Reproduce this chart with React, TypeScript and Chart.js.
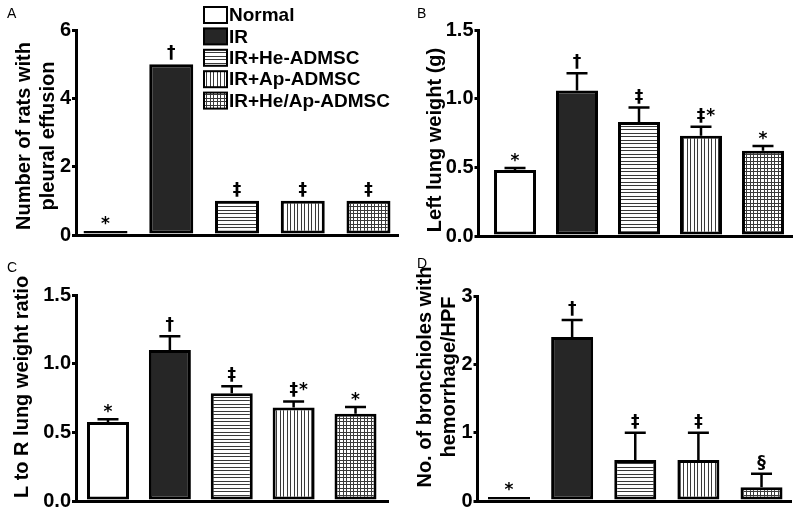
import React, { useEffect, useRef } from 'react';
import { Chart, registerables } from 'chart.js';

Chart.register(...registerables);

const FONT = '"Liberation Sans", Arial, Helvetica, sans-serif';
const MARK_FONT = '"DejaVu Sans", "Liberation Sans", sans-serif';

// ---------- data ----------
const groups = ['Normal', 'IR', 'IR+He-ADMSC', 'IR+Ap-ADMSC', 'IR+He/Ap-ADMSC'];

const effusionCounts = [0.12, 5, 1, 1, 1];
const effusionMarks = ['*', '†', '‡', '‡', '‡'];
const effusionTicks = [0, 2, 4, 6];
const effusionTickLabels = ['0', '2', '4', '6'];
const effusionTitle = ['Number of rats with', 'pleural effusion'];

const leftLungWeight = [0.48, 1.06, 0.83, 0.73, 0.62];
const leftLungSem = [0.015, 0.125, 0.105, 0.065, 0.035];
const leftLungMarks = ['*', '†', '‡', '‡*', '*'];
const weightTicks = [0, 0.5, 1.0, 1.5];
const weightTickLabels = ['0.0', '0.5', '1.0', '1.5'];
const leftLungTitle = ['Left lung weight (g)'];

const lrRatio = [0.575, 1.1, 0.785, 0.68, 0.635];
const lrRatioSem = [0.02, 0.1, 0.05, 0.045, 0.05];
const lrRatioMarks = ['*', '†', '‡', '‡*', '*'];
const lrRatioTitle = ['L to R lung weight ratio'];

const hemorrhage = [0.06, 2.4, 0.6, 0.6, 0.2];
const hemorrhageSem = [0, 0.25, 0.4, 0.4, 0.2];
const hemorrhageMarks = ['*', '†', '‡', '‡', '§'];
const hemorrhageTicks = [0, 1, 2, 3];
const hemorrhageTickLabels = ['0', '1', '2', '3'];
const hemorrhageTitle = ['No. of bronchioles with', 'hemorrhage/HPF'];

// ---------- layout ----------
type Panel = {
  letter: string;
  left: number;
  top: number;
  values: number[];
  sem: number[] | null;
  marks: string[];
  tickValues: number[];
  tickLabels: string[];
  title: string[];
  area: { l: number; t: number; r: number; b: number };
  xRange: [number, number];
  barWidth: number;
  titleX: number[];
  titleY: number;
  letterXY: [number, number];
  legend: boolean;
};

const panels: Panel[] = [
  {
    letter: 'A', left: 0, top: 0,
    values: effusionCounts, sem: null, marks: effusionMarks,
    tickValues: effusionTicks, tickLabels: effusionTickLabels, title: effusionTitle,
    area: { l: 76, t: 30, r: 398, b: 235 }, xRange: [-0.449, 4.449], barWidth: 44,
    titleX: [24, 48], titleY: 136, letterXY: [7, 18], legend: true,
  },
  {
    letter: 'B', left: 400, top: 0,
    values: leftLungWeight, sem: leftLungSem, marks: leftLungMarks,
    tickValues: weightTicks, tickLabels: weightTickLabels, title: leftLungTitle,
    area: { l: 78.5, t: 30, r: 392, b: 236 }, xRange: [-0.589, 4.468], barWidth: 42,
    titleX: [35], titleY: 140, letterXY: [17, 18], legend: false,
  },
  {
    letter: 'C', left: 0, top: 257,
    values: lrRatio, sem: lrRatioSem, marks: lrRatioMarks,
    tickValues: weightTicks, tickLabels: weightTickLabels, title: lrRatioTitle,
    area: { l: 76, t: 38, r: 388, b: 244 }, xRange: [-0.517, 4.525], barWidth: 42,
    titleX: [22], titleY: 130, letterXY: [7, 15], legend: false,
  },
  {
    letter: 'D', left: 400, top: 257,
    values: hemorrhage, sem: hemorrhageSem, marks: hemorrhageMarks,
    tickValues: hemorrhageTicks, tickLabels: hemorrhageTickLabels, title: hemorrhageTitle,
    area: { l: 77.5, t: 39, r: 391, b: 246 }, xRange: [-0.499, 4.467], barWidth: 42,
    titleX: [25, 49], titleY: 120, letterXY: [17, 11], legend: false,
  },
];

const W = 400;
const H = 257;
const Y_AXIS_W = 40;

function makePattern(ctx: CanvasRenderingContext2D, horiz: boolean, vert: boolean) {
  const c = document.createElement('canvas');
  c.width = 7;
  c.height = 7;
  const g = c.getContext('2d')!;
  g.fillStyle = '#ffffff';
  g.fillRect(0, 0, 7, 7);
  g.fillStyle = '#3a3a3a';
  if (horiz) {
    g.fillRect(0, 0, 7, 1);
    g.fillRect(0, 3, 7, 1);
  }
  if (vert) {
    g.fillRect(0, 0, 1, 7);
    g.fillRect(3, 0, 1, 7);
  }
  return ctx.createPattern(c, 'repeat') as CanvasPattern;
}

function PanelChart({ panel }: { panel: Panel }) {
  const ref = useRef<HTMLCanvasElement>(null);

  useEffect(() => {
    const canvas = ref.current!;
    const ctx = canvas.getContext('2d')!;
    const fills: (string | CanvasPattern)[] = [
      '#ffffff',
      '#262626',
      makePattern(ctx, true, false),
      makePattern(ctx, false, true),
      makePattern(ctx, true, true),
    ];

    const overlay = {
      id: 'overlay',
      afterDatasetsDraw(chart: any) {
        const c: CanvasRenderingContext2D = chart.ctx;
        const yScale = chart.scales.y;
        const meta = chart.getDatasetMeta(0);
        c.save();
        c.strokeStyle = '#000';
        c.fillStyle = '#000';
        c.lineWidth = 2.5;
        meta.data.forEach((bar: any, i: number) => {
          const x = bar.x;
          let topPx = bar.y;
          const s = panel.sem ? panel.sem[i] : 0;
          if (s > 0) {
            const yTop = yScale.getPixelForValue(panel.values[i] + s);
            const half = panel.barWidth / 4;
            c.beginPath();
            c.moveTo(x, bar.y);
            c.lineTo(x, yTop);
            c.moveTo(x - half, yTop);
            c.lineTo(x + half, yTop);
            c.stroke();
            topPx = yTop;
          }
          const mark = panel.marks[i];
          c.font = `bold 17px ${MARK_FONT}`;
          c.textBaseline = 'alphabetic';
          const base = mark.startsWith('*') ? topPx - 2 : topPx - 6;
          if (mark.length > 1) {
            const first = mark[0];
            const w0 = c.measureText(first).width;
            c.textAlign = 'left';
            c.fillText(first, x - w0 / 2, base);
            c.fillText(mark.slice(1), x + w0 / 2 + 1, base);
          } else {
            c.textAlign = 'center';
            c.fillText(mark, x, base);
          }
        });
        c.restore();
      },
      afterDraw(chart: any) {
        const c: CanvasRenderingContext2D = chart.ctx;
        c.save();
        c.fillStyle = '#000';
        // panel letter
        c.font = `14px ${FONT}`;
        c.textAlign = 'left';
        c.textBaseline = 'alphabetic';
        c.fillText(panel.letter, panel.letterXY[0], panel.letterXY[1]);
        // axis title
        c.font = `bold 20px ${FONT}`;
        c.textAlign = 'center';
        c.textBaseline = 'middle';
        panel.title.forEach((line, k) => {
          c.save();
          c.translate(panel.titleX[k], panel.titleY);
          c.rotate(-Math.PI / 2);
          c.fillText(line, 0, 0);
          c.restore();
        });
        // legend
        if (panel.legend) {
          const bx = 204;
          const bw = 23;
          const bh = 16;
          c.font = `bold 19px ${FONT}`;
          c.textAlign = 'left';
          c.textBaseline = 'middle';
          groups.forEach((g, k) => {
            const cy = 15 + k * 21.4;
            c.fillStyle = fills[k] as any;
            c.fillRect(bx, cy - bh / 2, bw, bh);
            c.strokeStyle = '#000';
            c.lineWidth = 2;
            c.strokeRect(bx, cy - bh / 2, bw, bh);
            c.fillStyle = '#000';
            c.fillText(g, bx + bw + 2, cy + 1);
          });
        }
        c.restore();
      },
    };

    const a = panel.area;
    const chart = new Chart(canvas, {
      type: 'bar',
      data: {
        datasets: [
          {
            data: groups.map((_, i) => ({ x: i, y: panel.values[i] })),
            backgroundColor: fills as any,
            borderColor: '#000',
            borderWidth: 3,
            borderSkipped: false,
            inflateAmount: 0,
            barThickness: panel.barWidth,
          } as any,
        ],
      },
      options: {
        responsive: false,
        animation: false,
        events: [],
        layout: {
          padding: { left: a.l - Y_AXIS_W, top: a.t, right: W - a.r, bottom: H - a.b },
        },
        plugins: { legend: { display: false }, tooltip: { enabled: false }, title: { display: false } },
        scales: {
          x: {
            type: 'linear',
            min: panel.xRange[0],
            max: panel.xRange[1],
            offset: false,
            ticks: { display: false },
            grid: { display: false, drawTicks: false },
            border: { display: true, color: '#000', width: 3 },
            afterFit: (s: any) => { s.height = 0; },
          },
          y: {
            type: 'linear',
            min: panel.tickValues[0],
            max: panel.tickValues[panel.tickValues.length - 1],
            afterBuildTicks: (s: any) => {
              s.ticks = panel.tickValues.map((v) => ({ value: v }));
            },
            afterFit: (s: any) => { s.width = Y_AXIS_W; },
            ticks: {
              color: '#000',
              padding: 1,
              font: { family: FONT, size: 20, weight: 'bold' },
              callback: (v: any) => {
                const idx = panel.tickValues.indexOf(Number(v));
                return idx >= 0 ? panel.tickLabels[idx] : '';
              },
            },
            grid: {
              display: true,
              drawOnChartArea: false,
              drawTicks: true,
              tickLength: 4,
              tickWidth: 3,
              tickColor: '#000',
              color: '#000',
              lineWidth: 3,
            },
            border: { display: true, color: '#000', width: 3 },
          },
        },
      },
      plugins: [overlay],
    } as any);

    return () => chart.destroy();
  }, [panel]);

  return (
    <div style={{ position: 'absolute', left: panel.left, top: panel.top, width: W, height: H }}>
      <canvas ref={ref} width={W} height={H} style={{ display: 'block' }} />
    </div>
  );
}

export default function App() {
  return (
    <div style={{ position: 'absolute', left: 0, top: 0, width: 800, height: 514, background: '#fff' }}>
      {panels.map((p) => (
        <PanelChart key={p.letter} panel={p} />
      ))}
    </div>
  );
}
